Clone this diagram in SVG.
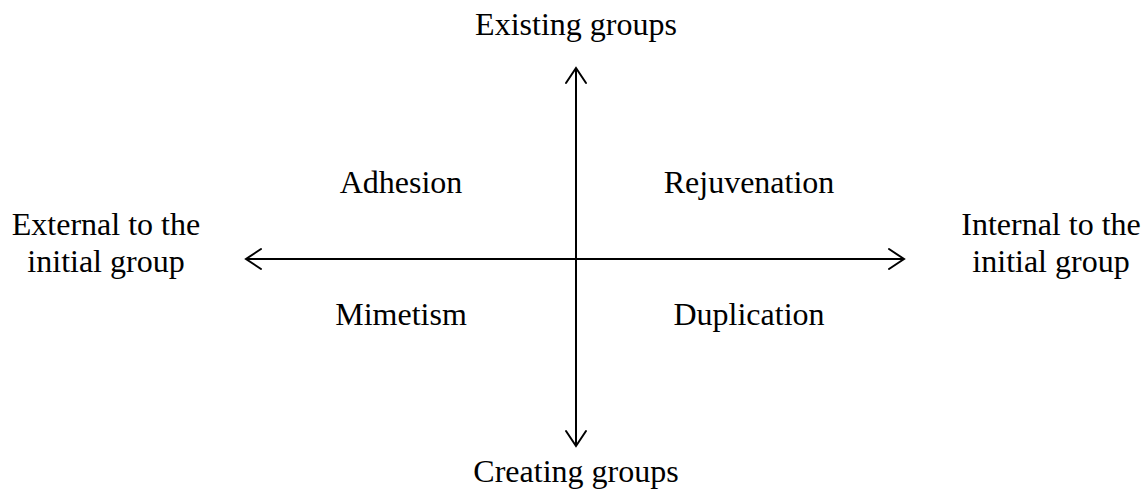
<svg xmlns="http://www.w3.org/2000/svg" width="1144" height="495" viewBox="0 0 1144 495">
<style>
text{font-family:"Liberation Serif","Times New Roman",serif;font-size:32px;fill:#000;text-anchor:middle}
.ax{stroke:#000;stroke-width:2;fill:none}
.hd{stroke:#000;stroke-width:2;fill:none;stroke-linecap:round;stroke-linejoin:miter}
</style>
<g id="connectors">
<line class="ax" x1="576" y1="68" x2="576" y2="446"/>
<line class="ax" x1="246" y1="259" x2="904" y2="259"/>
<polyline class="hd" points="566,83 576,68 586,83"/>
<polyline class="hd" points="566,431 576,446 586,431"/>
<polyline class="hd" points="261,249 246,259 261,269"/>
<polyline class="hd" points="889,249 904,259 889,269"/>
</g>
<g id="top"><text x="576" y="35">Existing groups</text></g>
<g id="bottom"><text x="576" y="482">Creating groups</text></g>
<g id="left"><text x="106" y="235">External to the</text><text x="106" y="272">initial group</text></g>
<g id="right"><text x="1051" y="235">Internal to the</text><text x="1051" y="272">initial group</text></g>
<g id="adhesion"><text x="401" y="193">Adhesion</text></g>
<g id="rejuvenation"><text x="749" y="193">Rejuvenation</text></g>
<g id="mimetism"><text x="401" y="325">Mimetism</text></g>
<g id="duplication"><text x="749" y="325">Duplication</text></g>
</svg>
